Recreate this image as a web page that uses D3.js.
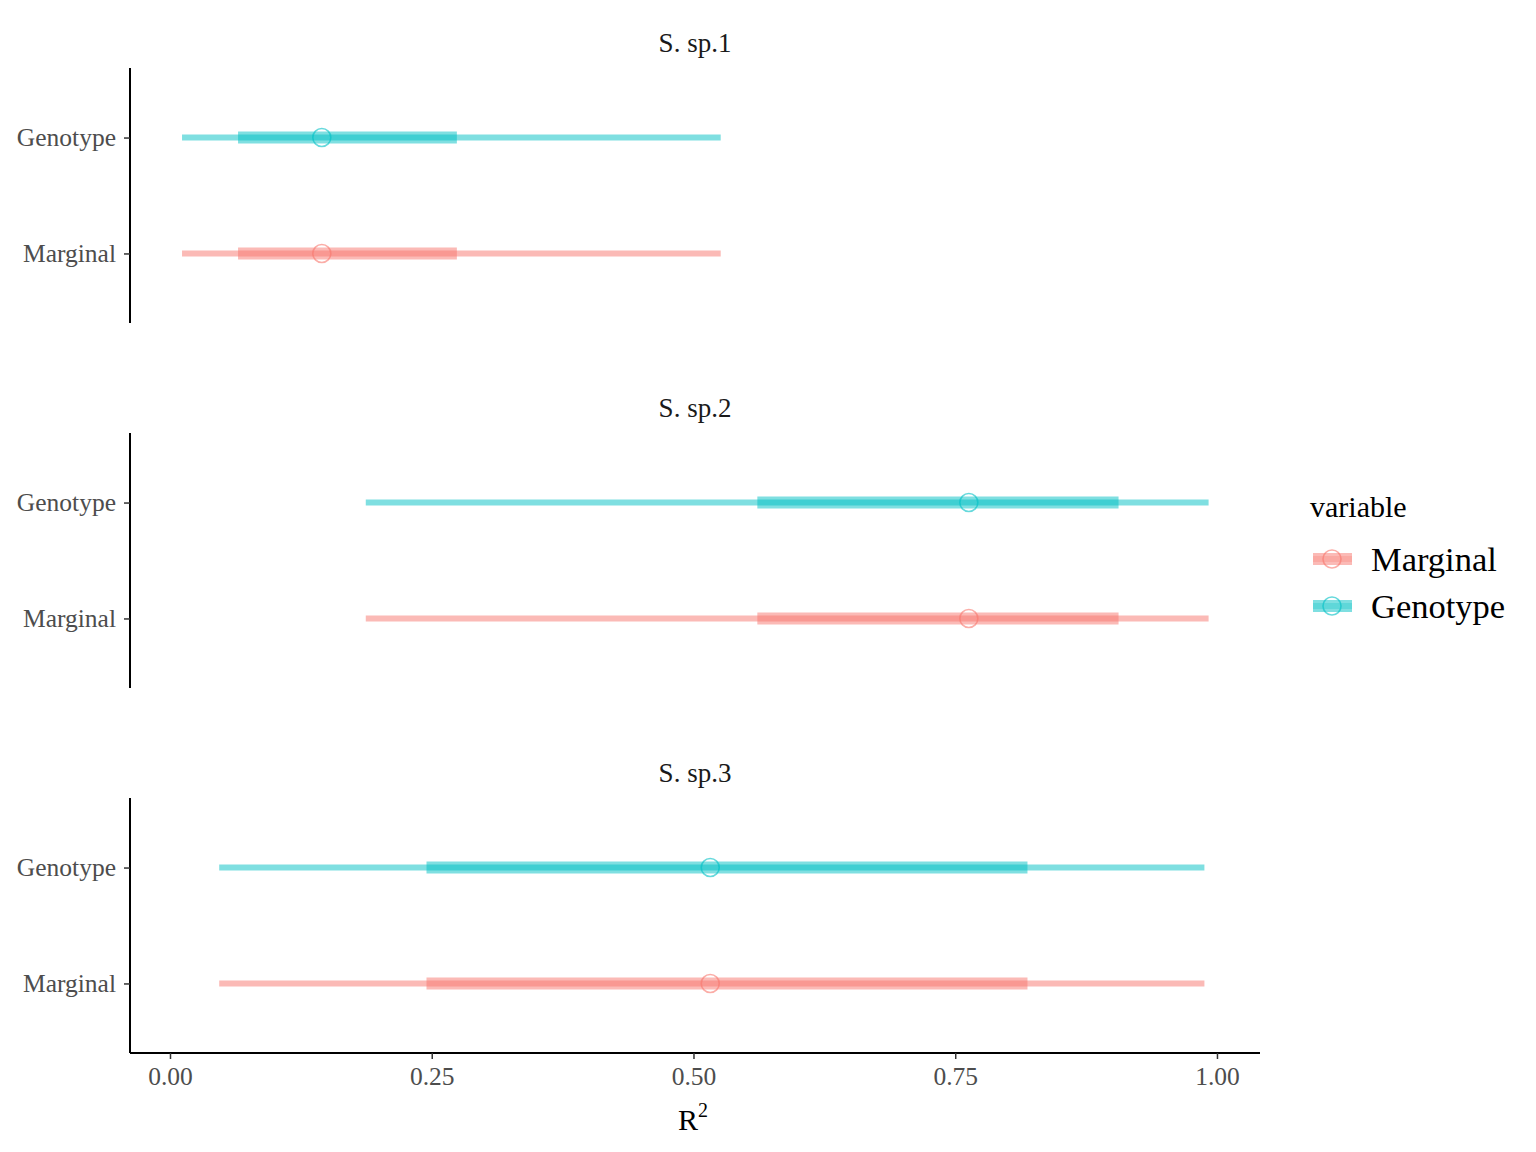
<!DOCTYPE html>
<html>
<head>
<meta charset="utf-8">
<script src="https://cdn.jsdelivr.net/npm/d3@7"></script>
<style>
  html, body { margin: 0; padding: 0; background: #fff; }
  svg { display: block; font-family: "Liberation Serif", "Times New Roman", serif; }
</style>
</head>
<body>
<svg id="chart" width="1536" height="1152"></svg>
<script>
// ---- data ----
const species = ["S. sp.1", "S. sp.2", "S. sp.3"];
const variables = ["Marginal", "Genotype"];
const median = [0.145, 0.763, 0.516];
const lo95 = [0.0115, 0.187, 0.047];
const hi95 = [0.526, 0.992, 0.988];
const lo50 = [0.065, 0.561, 0.245];
const hi50 = [0.274, 0.906, 0.819];
const xTicks = [0, 0.25, 0.5, 0.75, 1.0];
const xTickLabels = ["0.00", "0.25", "0.50", "0.75", "1.00"];
const colors = ["#F8766D", "#00BFC4"];

// ---- layout ----
const svg = d3.select("#chart");
const panelLeft = 130, panelRight = 1260;
const panelTops = [68, 433, 798];
const panelH = 255;

const x = d3.scaleLinear().domain([-0.0382, 1.0411]).range([panelLeft, panelRight]);
const color = d3.scaleOrdinal().domain(variables).range(colors);

species.forEach((sp, i) => {
  const top = panelTops[i];
  const y = d3.scalePoint().domain(["Genotype", "Marginal"]).range([top, top + panelH]).padding(0.6);
  const g = svg.append("g");

  // strip title
  g.append("text")
    .attr("x", (panelLeft + panelRight) / 2)
    .attr("y", top - 16)
    .attr("text-anchor", "middle")
    .attr("font-size", 27)
    .attr("fill", "#1a1a1a")
    .text(sp);

  // y axis
  const yAxis = d3.axisLeft(y).tickSize(6).tickPadding(8);
  const ya = g.append("g").attr("transform", `translate(${panelLeft},0)`).call(yAxis);
  ya.select(".domain").attr("stroke", "#000").attr("stroke-width", 2).attr("d", `M0,${top}V${top + panelH}`);
  ya.selectAll(".tick line").attr("stroke", "#333").attr("stroke-width", 1.5);
  ya.selectAll(".tick text").attr("font-size", 25.5).attr("fill", "#4d4d4d")
    .attr("font-family", "Liberation Serif, serif");

  // intervals
  variables.forEach(v => {
    const yy = y(v);
    const c = color(v);
    g.append("line")
      .attr("x1", x(lo50[i])).attr("x2", x(hi50[i]))
      .attr("y1", yy).attr("y2", yy)
      .attr("stroke", c).attr("stroke-opacity", 0.5).attr("stroke-width", 12);
    g.append("line")
      .attr("x1", x(lo95[i])).attr("x2", x(hi95[i]))
      .attr("y1", yy).attr("y2", yy)
      .attr("stroke", c).attr("stroke-opacity", 0.5).attr("stroke-width", 6);
    g.append("circle")
      .attr("cx", x(median[i])).attr("cy", yy).attr("r", 9)
      .attr("fill", "none").attr("stroke", c).attr("stroke-opacity", 0.6).attr("stroke-width", 1.6);
  });

  // x axis on bottom panel only
  if (i === species.length - 1) {
    const xAxis = d3.axisBottom(x).tickValues(xTicks).tickFormat((d, k) => xTickLabels[k]).tickSize(6).tickPadding(8);
    const xa = g.append("g").attr("transform", `translate(0,${top + panelH})`).call(xAxis);
    xa.select(".domain").attr("stroke", "#000").attr("stroke-width", 2).attr("d", `M${panelLeft},0H${panelRight}`);
    xa.selectAll(".tick line").attr("stroke", "#333").attr("stroke-width", 1.5);
    xa.selectAll(".tick text").attr("font-size", 25.5).attr("fill", "#4d4d4d")
      .attr("font-family", "Liberation Serif, serif");
  }
});

// x axis title
const xt = svg.append("text")
  .attr("x", (panelLeft + panelRight) / 2 - 2)
  .attr("y", 1130)
  .attr("text-anchor", "middle")
  .attr("font-size", 30)
  .attr("fill", "#000");
xt.append("tspan").text("R");
xt.append("tspan").attr("font-size", 20).attr("dy", -13).text("2");

// legend
const leg = svg.append("g");
leg.append("text").attr("x", 1310).attr("y", 517).attr("font-size", 30).attr("fill", "#000").text("variable");
const legY = [559, 606];
variables.forEach((v, k) => {
  const c = color(v);
  const yy = legY[k];
  leg.append("line").attr("x1", 1313).attr("x2", 1352).attr("y1", yy).attr("y2", yy)
    .attr("stroke", c).attr("stroke-opacity", 0.5).attr("stroke-width", 12);
  leg.append("line").attr("x1", 1313).attr("x2", 1352).attr("y1", yy).attr("y2", yy)
    .attr("stroke", c).attr("stroke-opacity", 0.25).attr("stroke-width", 6);
  leg.append("circle").attr("cx", 1332).attr("cy", yy).attr("r", 9)
    .attr("fill", "none").attr("stroke", c).attr("stroke-opacity", 0.6).attr("stroke-width", 1.6);
  leg.append("text").attr("x", 1371).attr("y", yy + 12).attr("font-size", 34.5).attr("fill", "#000").text(v);
});
</script>
</body>
</html>
